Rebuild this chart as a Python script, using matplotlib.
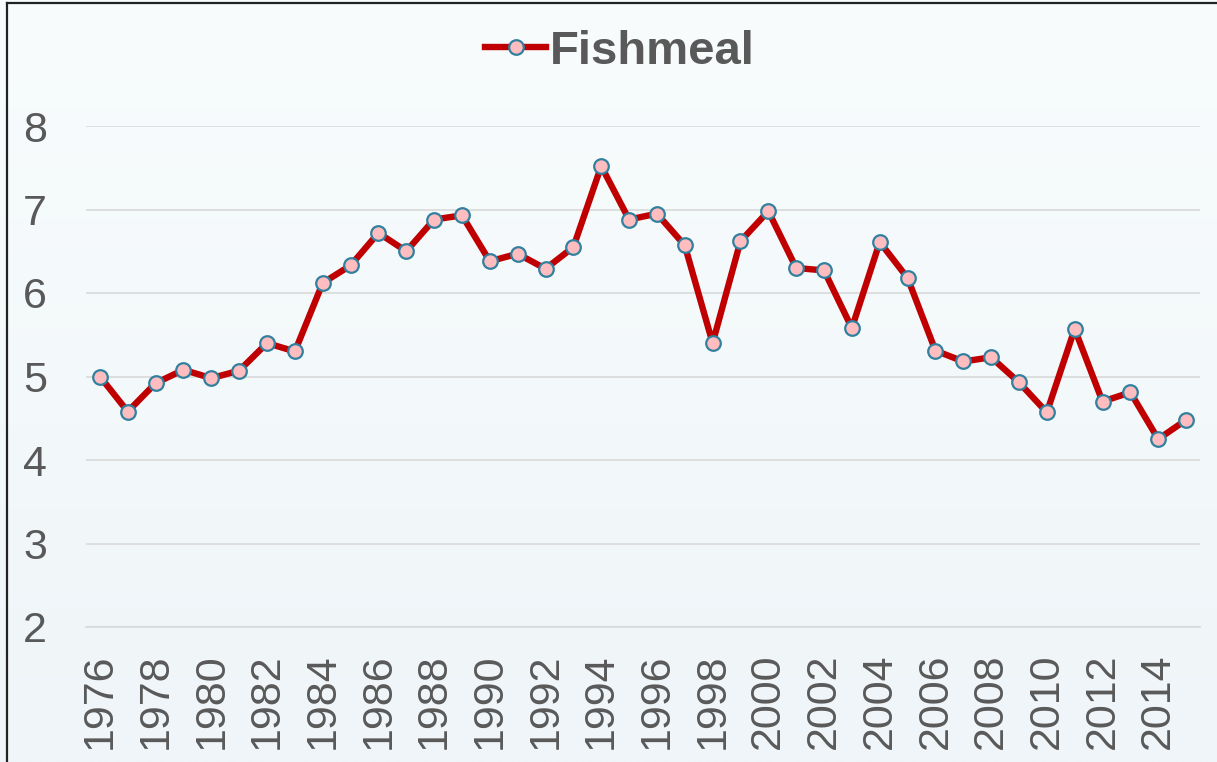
import numpy as np
import matplotlib
matplotlib.use("Agg")
import matplotlib.pyplot as plt
from matplotlib.lines import Line2D

years = list(range(1976, 2016))
fishmeal = [5.00, 4.58, 4.92, 5.08, 4.98, 5.07, 5.40, 5.30, 6.12, 6.33,
            6.72, 6.50, 6.88, 6.93, 6.38, 6.47, 6.29, 6.55, 7.52, 6.88,
            6.95, 6.57, 5.40, 6.62, 6.98, 6.30, 6.27, 5.58, 6.61, 6.18,
            5.31, 5.18, 5.23, 4.93, 4.57, 5.57, 4.70, 4.81, 4.25, 4.48]
series_name = "Fishmeal"
y_ticks = [2, 3, 4, 5, 6, 7, 8]
x_tick_years = years[::2]

plt.rcParams['font.family'] = ['Liberation Sans', 'DejaVu Sans']
text_color = "#595959"

W, H = 1217, 762
fig = plt.figure(figsize=(W / 100, H / 100), dpi=100)

# soft vertical background gradient across the whole figure
bg = fig.add_axes([0, 0, 1, 1], zorder=-10)
top_c = np.array([0xF8, 0xFC, 0xFD]) / 255
bot_c = np.array([0xEF, 0xF5, 0xF8]) / 255
t = np.linspace(0, 1, 256)[:, None]
grad = top_c[None, :] * (1 - t) + bot_c[None, :] * t
bg.imshow(grad[:, None, :].repeat(2, axis=1), aspect='auto', extent=[0, 1, 0, 1])
bg.set_axis_off()

ax = fig.add_axes([86 / W, 1 - 627 / H, (1200 - 86) / W, (627 - 126) / H])
ax.patch.set_alpha(0)

ax.plot(years, fishmeal, color="#C00000", lw=4.6, marker='o', markersize=10.5,
        markerfacecolor="#FFBDC0", markeredgecolor="#31809F", markeredgewidth=1.6,
        label=series_name, solid_joinstyle='round', zorder=3)

ax.set_xlim(1975.5, 2015.5)
ax.set_ylim(2, 8)
ax.set_yticks(y_ticks)
ax.set_xticks(x_tick_years)
ax.set_xticklabels([str(y) for y in x_tick_years], rotation=90, va='top')
ax.tick_params(axis='both', length=0, labelsize=31, colors=text_color)
ax.tick_params(axis='x', pad=19)
ax.tick_params(axis='y', pad=28)

ax.grid(axis='y', color="#D9D9D9", lw=1.2, zorder=0)
for s in ['top', 'right', 'left']:
    ax.spines[s].set_visible(False)
ax.spines['bottom'].set_color("#D9D9D9")
ax.spines['bottom'].set_linewidth(1.2)

leg = fig.legend(loc='center', bbox_to_anchor=(620 / W, 1 - 52 / H), frameon=False,
                 prop={'size': 34, 'weight': 'bold'}, handlelength=1.3,
                 handletextpad=0.08, borderpad=0)
for txt in leg.get_texts():
    txt.set_color(text_color)

# thin dark frame along the top and left edges
fig.add_artist(Line2D([7 / W, 7 / W], [0, 1 - 3 / H], color="#222222", lw=1.6))
fig.add_artist(Line2D([7 / W, 1], [1 - 3 / H, 1 - 3 / H], color="#222222", lw=1.6))

fig.savefig("out.png", dpi=100)
